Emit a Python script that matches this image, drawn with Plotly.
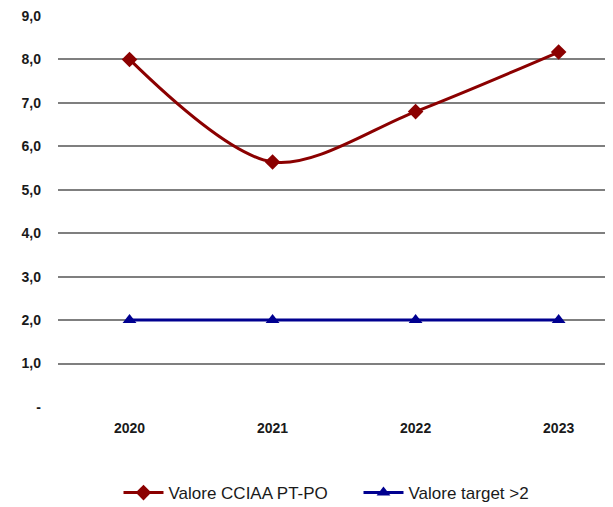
import plotly.graph_objects as go

years = ["2020", "2021", "2022", "2023"]
valore_cciaa = [8.0, 5.64, 6.80, 8.17]
valore_target = [2.0, 2.0, 2.0, 2.0]
y_ticks = [0, 1, 2, 3, 4, 5, 6, 7, 8, 9]
y_tick_labels = ["-", "1,0", "2,0", "3,0", "4,0", "5,0", "6,0", "7,0", "8,0", "9,0"]

fig = go.Figure()
fig.add_trace(go.Scatter(
    x=[0, 1, 2, 3], y=valore_cciaa, name="Valore CCIAA PT-PO",
    mode="lines+markers", line=dict(color="#8B0000", width=3, shape="spline", smoothing=0.9),
    marker=dict(symbol="diamond", size=12, color="#8B0000"),
))
fig.add_trace(go.Scatter(
    x=[0, 1, 2, 3], y=valore_target, name="Valore target >2",
    mode="lines+markers", line=dict(color="#000090", width=3),
    marker=dict(symbol="triangle-up", size=12, color="#000090"),
))

fig.update_layout(
    width=605, height=499,
    margin=dict(l=50, r=0, t=8, b=100, autoexpand=False),
    paper_bgcolor="white", plot_bgcolor="white",
    font=dict(family="Liberation Sans, Arial", size=13, color="#1a1a1a"),
    showlegend=True,
    legend=dict(orientation="h", x=0.109, xanchor="left", yref="container", y=0.028, yanchor="middle",
                font=dict(size=17, color="#1a1a1a", family="Liberation Sans, Arial"),
                itemwidth=40, entrywidth=185, tracegroupgap=0),
    xaxis=dict(range=[-0.5, 3.38], tickvals=[0, 1, 2, 3], ticktext=years,
               showgrid=False, zeroline=False, showline=False, ticks="",
               tickfont=dict(size=14, family="Liberation Sans, Arial", color="#1a1a1a", weight="bold"),
               ticklabelstandoff=11),
    yaxis=dict(range=[0, 9], tickvals=y_ticks, ticktext=y_tick_labels,
               showgrid=True, gridcolor="#7f7f7f", gridwidth=1.5, zeroline=False,
               showline=False, ticks="", ticklabelstandoff=16, ticklabeloverflow="allow",
               tickfont=dict(size=14, color="#1a1a1a", weight="bold")),
)
fig.write_html("out.html")
